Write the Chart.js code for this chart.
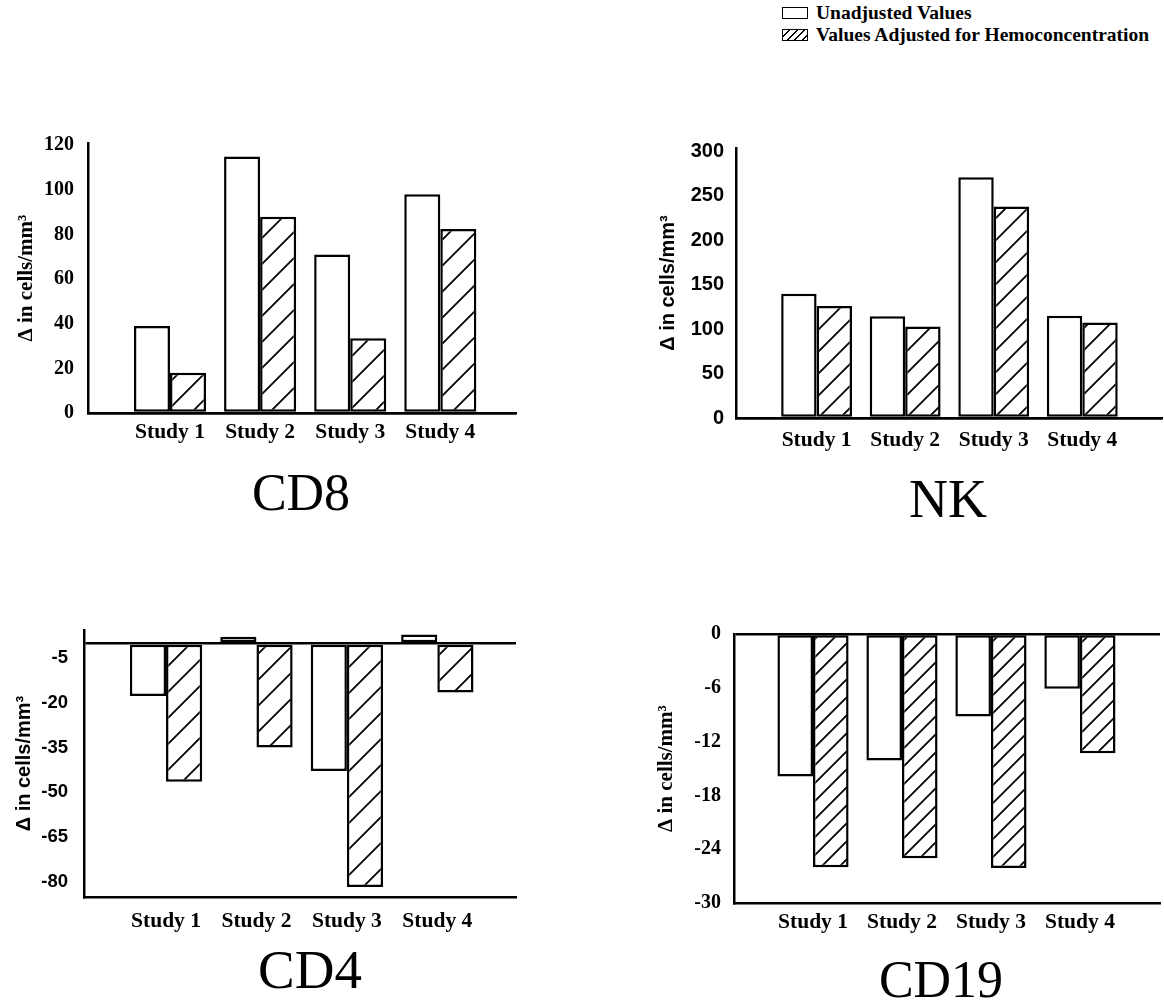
<!DOCTYPE html>
<html>
<head>
<meta charset="utf-8">
<script src="https://cdn.jsdelivr.net/npm/chart.js@4.4.0/dist/chart.umd.min.js"></script>
<style>
body { margin:0; background:#fff; width:1164px; height:1001px; position:relative; overflow:hidden; font-family:"Liberation Serif", serif; color:#000; }
canvas { position:absolute; }
.ttl { position:absolute; line-height:1; transform:translateX(-50%); white-space:nowrap; }
#legend { position:absolute; left:782px; top:2px; font-weight:bold; font-size:19.5px; }
.row { display:flex; align-items:center; height:22px; }
.sw { width:24px; height:10px; border:1.5px solid #000; margin-right:8px; background:#fff; }
.sw.hatch { background:repeating-linear-gradient(135deg, #fff 0 4px, #000 4px 5.4px); }
</style>
</head>
<body>

<div id="legend">
  <div class="row"><span class="sw"></span>Unadjusted Values</div>
  <div class="row"><span class="sw hatch"></span>Values Adjusted for Hemoconcentration</div>
</div>

<canvas id="cd8" width="530" height="360" style="left:0px;top:110px"></canvas>
<canvas id="nk" width="544" height="360" style="left:620px;top:110px"></canvas>
<canvas id="cd4" width="530" height="360" style="left:0px;top:600px"></canvas>
<canvas id="cd19" width="544" height="360" style="left:620px;top:600px"></canvas>

<div class="ttl" style="left:301px;top:467px;font-size:52px">CD8</div>
<div class="ttl" style="left:948px;top:472px;font-size:54px">NK</div>
<div class="ttl" style="left:310px;top:942px;font-size:55px">CD4</div>
<div class="ttl" style="left:941px;top:954px;font-size:52px">CD19</div>

<script>
// values (change in cells/mm3)
var studies = ["Study 1", "Study 2", "Study 3", "Study 4"];
var studyPos = [1, 2, 3, 4];

var cd8Unadj = [39, 115, 71, 98];
var cd8Adj = [18, 88, 33.5, 82.5];
var cd8Ticks = [0, 20, 40, 60, 80, 100, 120];

var nkUnadj = [140, 114.5, 271, 115];
var nkAdj = [126, 103, 238, 107.5];
var nkTicks = [0, 50, 100, 150, 200, 250, 300];

var cd4Unadj = [-17.7, 2.2, -42.9, 3];
var cd4Adj = [-46.5, -35, -81.8, -16.5];
var cd4Ticks = [-80, -65, -50, -35, -20, -5, 0]; // 0 only carries the zero line

var cd19Unadj = [-15.9, -14.1, -9.2, -6.1];
var cd19Adj = [-26.0, -25.0, -26.1, -13.3];
var cd19Ticks = [-30, -24, -18, -12, -6, 0];

var SERIF = "'Liberation Serif', 'Times New Roman', serif";
var SANS = "'Liberation Sans', Arial, sans-serif";

// diagonal "/" hatching
function hatch(ctx, size) {
	var c = document.createElement("canvas");
	c.width = size; c.height = size;
	var g = c.getContext("2d");
	g.fillStyle = "#fff";
	g.fillRect(0, 0, size, size);
	g.strokeStyle = "#000";
	g.lineWidth = 1.8;
	g.beginPath();
	g.moveTo(-2, size + 2); g.lineTo(size + 2, -2);
	g.moveTo(-3, 3); g.lineTo(3, -3);
	g.moveTo(size - 3, size + 3); g.lineTo(size + 3, size - 3);
	g.stroke();
	return ctx.createPattern(c, "repeat");
}

function panel(id, o) {
	var cv = document.getElementById(id);
	var ctx = cv.getContext("2d");
	return new Chart(ctx, {
		type: "bar",
		data: {
			labels: studyPos,
			datasets: [
				{label: "Unadjusted Values", data: o.unadj, backgroundColor: "#fff",
				 borderColor: "#000", borderWidth: 2.5, borderSkipped: false},
				{label: "Values Adjusted for Hemoconcentration", data: o.adj, backgroundColor: hatch(ctx, o.hatch),
				 borderColor: "#000", borderWidth: 2.5, borderSkipped: false}
			]
		},
		options: {
			responsive: false,
			animation: false,
			categoryPercentage: 0.8,
			barPercentage: 1,
			layout: {padding: o.pad},
			plugins: {legend: {display: false}, tooltip: {enabled: false}},
			scales: {
				x: {
					type: "linear", min: o.xMin, max: o.xMax, offset: false,
					grid: {display: false, drawTicks: false},
					border: {display: true, color: "#000", width: 2.5},
					afterBuildTicks: s => { s.ticks = studyPos.map(v => ({value: v})); },
					afterFit: s => { s.height = 40; },
					ticks: {padding: o.xPad, color: "#000", autoSkip: false, maxRotation: 0,
						font: {family: SERIF, weight: "bold", size: 21.5},
						callback: (v, i) => studies[i]}
				},
				y: {
					min: o.yMin, max: o.yMax,
					grid: {drawTicks: false, lineWidth: 2.5,
						color: c => (c.tick && c.tick.value === 0) ? "#000" : "rgba(0,0,0,0)"},
					border: {display: true, color: "#000", width: 2.5},
					afterBuildTicks: s => { s.ticks = o.ticks.map(v => ({value: v})); },
					afterFit: s => { s.width = o.yWidth; },
					ticks: {padding: o.yPad, color: "#000",
						font: {family: o.tickFont, weight: "bold", size: o.tickSize},
						callback: v => (o.hideZero && v === 0) ? "" : v},
					title: {display: true, text: "Δ in cells/mm³", color: "#000",
						font: {family: o.tickFont, weight: "bold", size: o.titleSize},
						padding: {top: o.titlePad, bottom: 0}}
				}
			}
		}
	});
}

panel("cd8", {
	unadj: cd8Unadj, adj: cd8Adj, ticks: cd8Ticks, yMin: 0, yMax: 121,
	xMin: 0.09, xMax: 4.84, hatch: 26,
	pad: {left: 0, top: 33, right: 14, bottom: 17}, yWidth: 88,
	xPad: 6.6, yPad: 14, tickFont: SERIF, tickSize: 20, titleSize: 21, titlePad: 14.4
});

panel("nk", {
	unadj: nkUnadj, adj: nkAdj, ticks: nkTicks, yMin: 0, yMax: 304,
	xMin: 0.09, xMax: 4.9, hatch: 22,
	pad: {left: 0, top: 38, right: 2, bottom: 12}, yWidth: 116,
	xPad: 9.1, yPad: 12, tickFont: SANS, tickSize: 20, titleSize: 20, titlePad: 36
});

panel("cd4", {
	unadj: cd4Unadj, adj: cd4Adj, ticks: cd4Ticks, yMin: -85.2, yMax: 4.5, hideZero: true,
	xMin: 0.093, xMax: 4.87, hatch: 26,
	pad: {left: 0, top: 30, right: 14, bottom: 23}, yWidth: 84,
	xPad: 11.6, yPad: 16, tickFont: SANS, tickSize: 18.5, titleSize: 20, titlePad: 12
});

panel("cd19", {
	unadj: cd19Unadj, adj: cd19Adj, ticks: cd19Ticks, yMin: -30, yMax: 0,
	xMin: 0.112, xMax: 4.9, hatch: 18,
	pad: {left: 0, top: 34, right: 4, bottom: 17}, yWidth: 114,
	xPad: 6.6, yPad: 13, tickFont: SERIF, tickSize: 20, titleSize: 21, titlePad: 34.4
});
</script>
</body>
</html>
